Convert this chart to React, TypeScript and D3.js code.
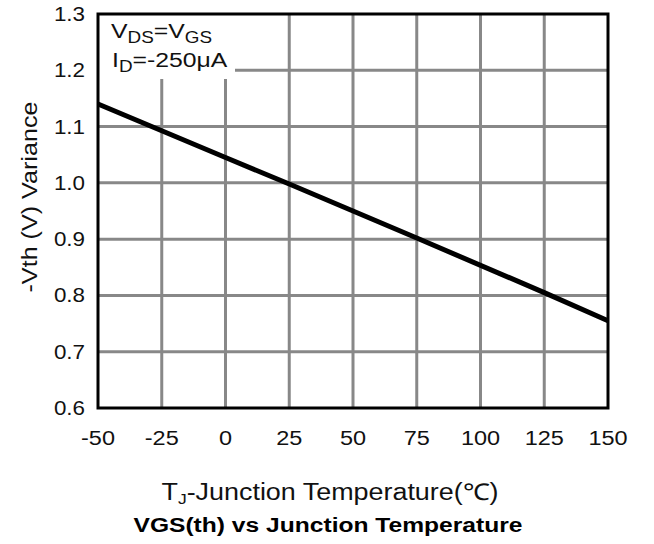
import React from "react";
import * as d3 from "d3";

const xTicks = [-50, -25, 0, 25, 50, 75, 100, 125, 150];
const yTicks = [0.6, 0.7, 0.8, 0.9, 1.0, 1.1, 1.2, 1.3];
const tempC = [-50, 0, 25, 75, 125, 150];
const vthVariance = [1.14, 1.045, 0.998, 0.902, 0.805, 0.755];

const W = 654, H = 544;
const L = 98, R = 608, T = 14, B = 408;

export default function App() {
  const x = d3.scaleLinear().domain([-50, 150]).range([L, R]);
  const y = d3.scaleLinear().domain([0.6, 1.3]).range([B, T]);
  const line = d3.line<number>().x((_, i) => x(tempC[i])).y((d) => y(d));
  const font = "Liberation Sans, Arial, sans-serif";
  const SX = 1.12;
  return (
    <svg width={W} height={H} style={{ position: "absolute", left: 0, top: 0, background: "#fff" }} fontFamily={font}>
      <rect x={0} y={0} width={W} height={H} fill="#fff" />
      {xTicks.slice(1, -1).map((t) => (
        <line key={"gx" + t} x1={x(t)} x2={x(t)} y1={T} y2={B} stroke="#888" strokeWidth={3} />
      ))}
      {yTicks.slice(1, -1).map((t) => (
        <line key={"gy" + t} x1={L} x2={R} y1={y(t)} y2={y(t)} stroke="#888" strokeWidth={3} />
      ))}
      <rect x={L} y={T} width={137} height={65} fill="#fff" />
      <path d={line(vthVariance) || ""} fill="none" stroke="#000" strokeWidth={5} />
      <rect x={L} y={T} width={R - L} height={B - T} fill="none" stroke="#000" strokeWidth={3} />
      {xTicks.map((t) => (
        <g key={"tx" + t} transform={`translate(${x(t)},445) scale(${SX},1)`}>
          <text x={0} y={0} textAnchor="middle" fontSize={21} fill="#111">{t}</text>
        </g>
      ))}
      {yTicks.map((t) => (
        <g key={"ty" + t} transform={`translate(85,${y(t) + 7}) scale(${SX},1)`}>
          <text x={0} y={0} textAnchor="end" fontSize={20} fill="#111">{t.toFixed(1)}</text>
        </g>
      ))}
      <g transform="translate(111,38) scale(1.18,1)">
        <text x={0} y={0} fontSize={21} fill="#111">
          V<tspan fontSize={16} dy={5}>DS</tspan><tspan dy={-5}>=V</tspan><tspan fontSize={16} dy={5}>GS</tspan>
        </text>
      </g>
      <g transform="translate(112,67) scale(1.18,1)">
        <text x={0} y={0} fontSize={21} fill="#111">
          I<tspan fontSize={16} dy={5}>D</tspan><tspan dy={-5}>=-250μA</tspan>
        </text>
      </g>
      <text transform={`translate(37,197) rotate(-90)`} textAnchor="middle" fontSize={22} fill="#111"
        textLength={191} lengthAdjust="spacingAndGlyphs">-Vth (V) Variance</text>
      <g transform="translate(330,500) scale(1.17,1)">
        <text x={0} y={0} textAnchor="middle" fontSize={23} fill="#111">
          T<tspan fontSize={15} dy={4}>J</tspan><tspan dy={-4}>-Junction Temperature(℃)</tspan>
        </text>
      </g>
      <text x={328} y={532} textAnchor="middle" fontSize={20} fontWeight="bold" fill="#000"
        textLength={389} lengthAdjust="spacingAndGlyphs">VGS(th) vs Junction Temperature</text>
    </svg>
  );
}
